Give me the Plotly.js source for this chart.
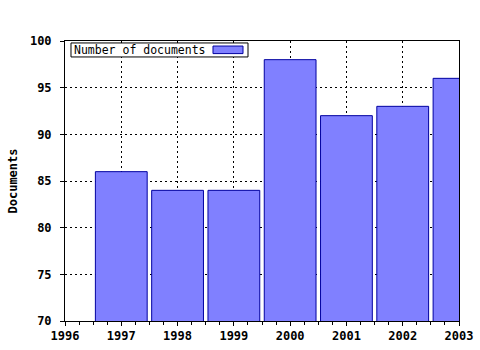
<!DOCTYPE html>
<html>
<head>
<meta charset="utf-8">
<script src="https://cdn.plot.ly/plotly-3.0.1.min.js"></script>
<style>
  html, body { margin: 0; padding: 0; background: #ffffff; }
  #chart { width: 480px; height: 350px; }
</style>
</head>
<body>
<div id="chart"></div>
<script>
// ---- Data ----
const years = [1997, 1998, 1999, 2000, 2001, 2002, 2003];
const documentCounts = [86, 84, 84, 98, 92, 93, 96];
const seriesName = "Number of documents";
const xTickValues = [1996, 1997, 1998, 1999, 2000, 2001, 2002, 2003];
const xTickLabels = ["1996", "1997", "1998", "1999", "2000", "2001", "2002", "2003"];
const yTickValues = [70, 75, 80, 85, 90, 95, 100];
const yTickLabels = ["70", "75", "80", "85", "90", "95", "100"];
const yAxisTitle = "Documents";

const mono = "DejaVu Sans Mono, monospace";

const trace = {
  type: "bar",
  name: seriesName,
  x: years,
  y: documentCounts,
  width: 0.92,
  marker: { color: "rgb(128,128,255)", line: { color: "rgb(0,0,160)", width: 1 } },
  showlegend: false,
  hoverinfo: "x+y"
};

const layout = {
  width: 480,
  height: 350,
  margin: { l: 65, r: 21, t: 41, b: 29, pad: 0 },
  paper_bgcolor: "#ffffff",
  plot_bgcolor: "#ffffff",
  bargap: 0,
  xaxis: {
    range: [1996, 2003],
    tickmode: "array",
    tickvals: xTickValues,
    ticktext: xTickLabels,
    showgrid: true,
    gridcolor: "#000000",
    gridwidth: 1,
    griddash: "2px,3px",
    zeroline: false,
    showline: true,
    linecolor: "#000000",
    linewidth: 1,
    mirror: true,
    ticks: "outside",
    ticklen: 4,
    tickcolor: "#000000",
    minor: { dtick: 0.25, tick0: 1996, ticks: "outside", ticklen: 3, tickcolor: "#000000", showgrid: false },
    tickfont: { family: mono, size: 12, color: "#000000", weight: "bold" },
    fixedrange: true
  },
  xaxis2: {
    overlaying: "x",
    side: "top",
    range: [1996, 2003],
    tickmode: "linear",
    tick0: 1996,
    dtick: 0.25,
    ticks: "inside",
    ticklen: 3,
    tickcolor: "#000000",
    showticklabels: false,
    showgrid: false,
    zeroline: false,
    showline: false,
    fixedrange: true
  },
  yaxis: {
    range: [70, 100],
    tickmode: "array",
    tickvals: yTickValues,
    ticktext: yTickLabels,
    showgrid: true,
    gridcolor: "#000000",
    gridwidth: 1,
    griddash: "2px,3px",
    zeroline: false,
    showline: true,
    linecolor: "#000000",
    linewidth: 1,
    mirror: true,
    ticks: "outside",
    ticklen: 4,
    tickcolor: "#000000",
    ticklabelstandoff: 6,
    tickfont: { family: mono, size: 12, color: "#000000", weight: "bold" },
    title: { text: yAxisTitle, standoff: 9, font: { family: mono, size: 12, color: "#000000", weight: "bold" } },
    fixedrange: true
  },
  shapes: [
    { type: "rect", xref: "paper", yref: "paper", x0: 0.0152, x1: 0.4645, y0: 0.943, y1: 0.993,
      line: { color: "#000000", width: 1 }, fillcolor: "#ffffff", layer: "above" },
    { type: "rect", xref: "paper", yref: "paper", x0: 0.3756, x1: 0.4518, y0: 0.955, y1: 0.982,
      line: { color: "rgb(0,0,160)", width: 1 }, fillcolor: "rgb(128,128,255)", layer: "above" }
  ],
  annotations: [
    { xref: "paper", yref: "paper", x: 0.018, y: 0.968, xanchor: "left", yanchor: "middle",
      text: seriesName, showarrow: false,
      font: { family: mono, size: 11.5, color: "#000000" } }
  ]
};

Plotly.newPlot("chart", [trace], layout, { displayModeBar: false, staticPlot: true });
</script>
</body>
</html>
